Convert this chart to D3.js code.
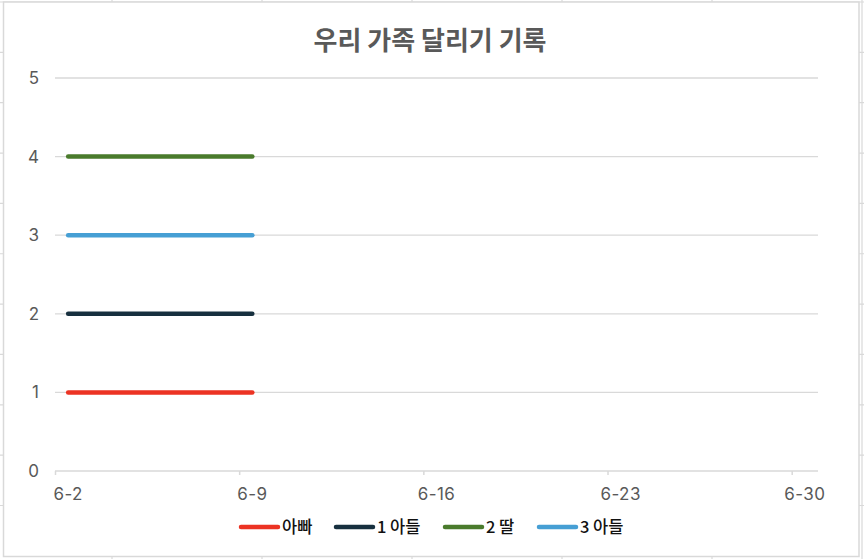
<!DOCTYPE html>
<html><head><meta charset="utf-8">
<script src="https://cdn.jsdelivr.net/npm/d3@7"></script>
<style>html,body{margin:0;padding:0;background:#fff;}svg{display:block;}</style>
</head><body>
<svg id="chart" width="864" height="559"></svg>
<script>
// ---- data ----
const title = "우리 가족 달리기 기록";
const dates = ["2024-06-02", "2024-06-09"];
const seriesNames = ["아빠", "1 아들", "2 딸", "3 아들"];
const seriesDad = [1, 1];
const seriesSon1 = [2, 2];
const seriesDaughter2 = [4, 4];
const seriesSon3 = [3, 3];
const seriesColors = ["#ec3323", "#17303f", "#4a7b2c", "#469fd4"];
const xTickDates = ["2024-06-02", "2024-06-09", "2024-06-16", "2024-06-23", "2024-06-30"];
const xTickLabels = ["6-2", "6-9", "6-16", "6-23", "6-30"];
const yTicks = [0, 1, 2, 3, 4, 5];

const series = [seriesDad, seriesSon1, seriesDaughter2, seriesSon3].map((v, i) => ({
  name: seriesNames[i], color: seriesColors[i], values: v
}));

const svg = d3.select("#chart");
const W = 864, H = 559;
const grid = "#d9d9d9";

// spreadsheet cell lines behind chart
const bg = svg.append("g");
d3.range(6).forEach(k => {
  const x = 112 + 150 * k;
  bg.append("line").attr("x1", x).attr("x2", x).attr("y1", 0).attr("y2", H)
    .attr("stroke", grid).attr("stroke-width", 1.2);
});
d3.range(11).forEach(k => {
  const y = 2 + 50.35 * k;
  bg.append("line").attr("x1", 0).attr("x2", W).attr("y1", y).attr("y2", y)
    .attr("stroke", grid).attr("stroke-width", 1.2);
});

// chart area
svg.append("rect").attr("x", 3.5).attr("y", 2).attr("width", 855.5).attr("height", 554.5)
  .attr("fill", "#fff").attr("stroke", grid).attr("stroke-width", 1.5);

const parse = d3.utcParse("%Y-%m-%d");
const day = 86400000;
const x0 = 55, x1 = 818, yTop = 78, yBot = 471;
const x = d3.scaleUtc()
  .domain([parse("2024-06-02"), new Date(+parse("2024-06-30") + day)])
  .range([x0, x1]);
const y = d3.scaleLinear().domain([0, 5]).range([yBot, yTop]);

// title
svg.append("text").attr("x", 430).attr("y", 50).attr("text-anchor", "middle")
  .attr("font-family", "'Noto Sans CJK KR', sans-serif").attr("font-weight", 700)
  .attr("font-size", 26).attr("fill", "#595959").text(title);

// gridlines
svg.append("g").selectAll("line").data(yTicks.filter(d => d > 0)).join("line")
  .attr("x1", x0).attr("x2", x1).attr("y1", d => y(d)).attr("y2", d => y(d))
  .attr("stroke", grid).attr("stroke-width", 1.3);

// y labels
svg.append("g").selectAll("text").data(yTicks).join("text")
  .attr("x", 39).attr("y", d => y(d)).attr("dy", "0.35em").attr("text-anchor", "end")
  .attr("font-family", "Inter, sans-serif").attr("font-size", 17).attr("fill", "#595959")
  .text(d => d);

// x axis
const tickDates = xTickDates.map(parse);
const xAxis = d3.axisBottom(x).tickValues(tickDates).tickSize(4).tickFormat("");
const gx = svg.append("g").attr("transform", `translate(0,${yBot})`).call(xAxis);
gx.select(".domain").attr("stroke", grid).attr("stroke-width", 1.5).attr("d", `M${x0},0H${x1}`);
gx.selectAll(".tick line").attr("stroke", grid).attr("stroke-width", 1.5);

svg.append("g").selectAll("text").data(tickDates).join("text")
  .attr("x", d => x(new Date(+d + day / 2))).attr("y", 500).attr("text-anchor", "middle")
  .attr("font-family", "Inter, sans-serif").attr("font-size", 17).attr("fill", "#595959")
  .attr("letter-spacing", 0.4)
  .text((d, i) => xTickLabels[i]);

// lines
const line = d3.line()
  .x((d, i) => x(new Date(+parse(dates[i]) + day / 2)))
  .y(d => y(d));
svg.append("g").selectAll("path").data(series).join("path")
  .attr("d", s => line(s.values)).attr("fill", "none")
  .attr("stroke", s => s.color).attr("stroke-width", 4.5)
  .attr("stroke-linecap", "round").attr("stroke-linejoin", "round");

// legend
const legendX = [239, 334, 443, 537];
const lg = svg.append("g").selectAll("g").data(series).join("g")
  .attr("transform", (s, i) => `translate(${legendX[i]},527)`);
lg.append("line").attr("x1", 2).attr("x2", 39).attr("y1", 0).attr("y2", 0)
  .attr("stroke", s => s.color).attr("stroke-width", 4.5).attr("stroke-linecap", "round");
lg.append("text").attr("x", 43).attr("y", 0).attr("dy", "0.36em")
  .attr("font-family", "'Noto Sans CJK KR', sans-serif").attr("font-weight", 500)
  .attr("font-size", 16.5).attr("fill", "#111").text(s => s.name);
</script>
</body></html>
